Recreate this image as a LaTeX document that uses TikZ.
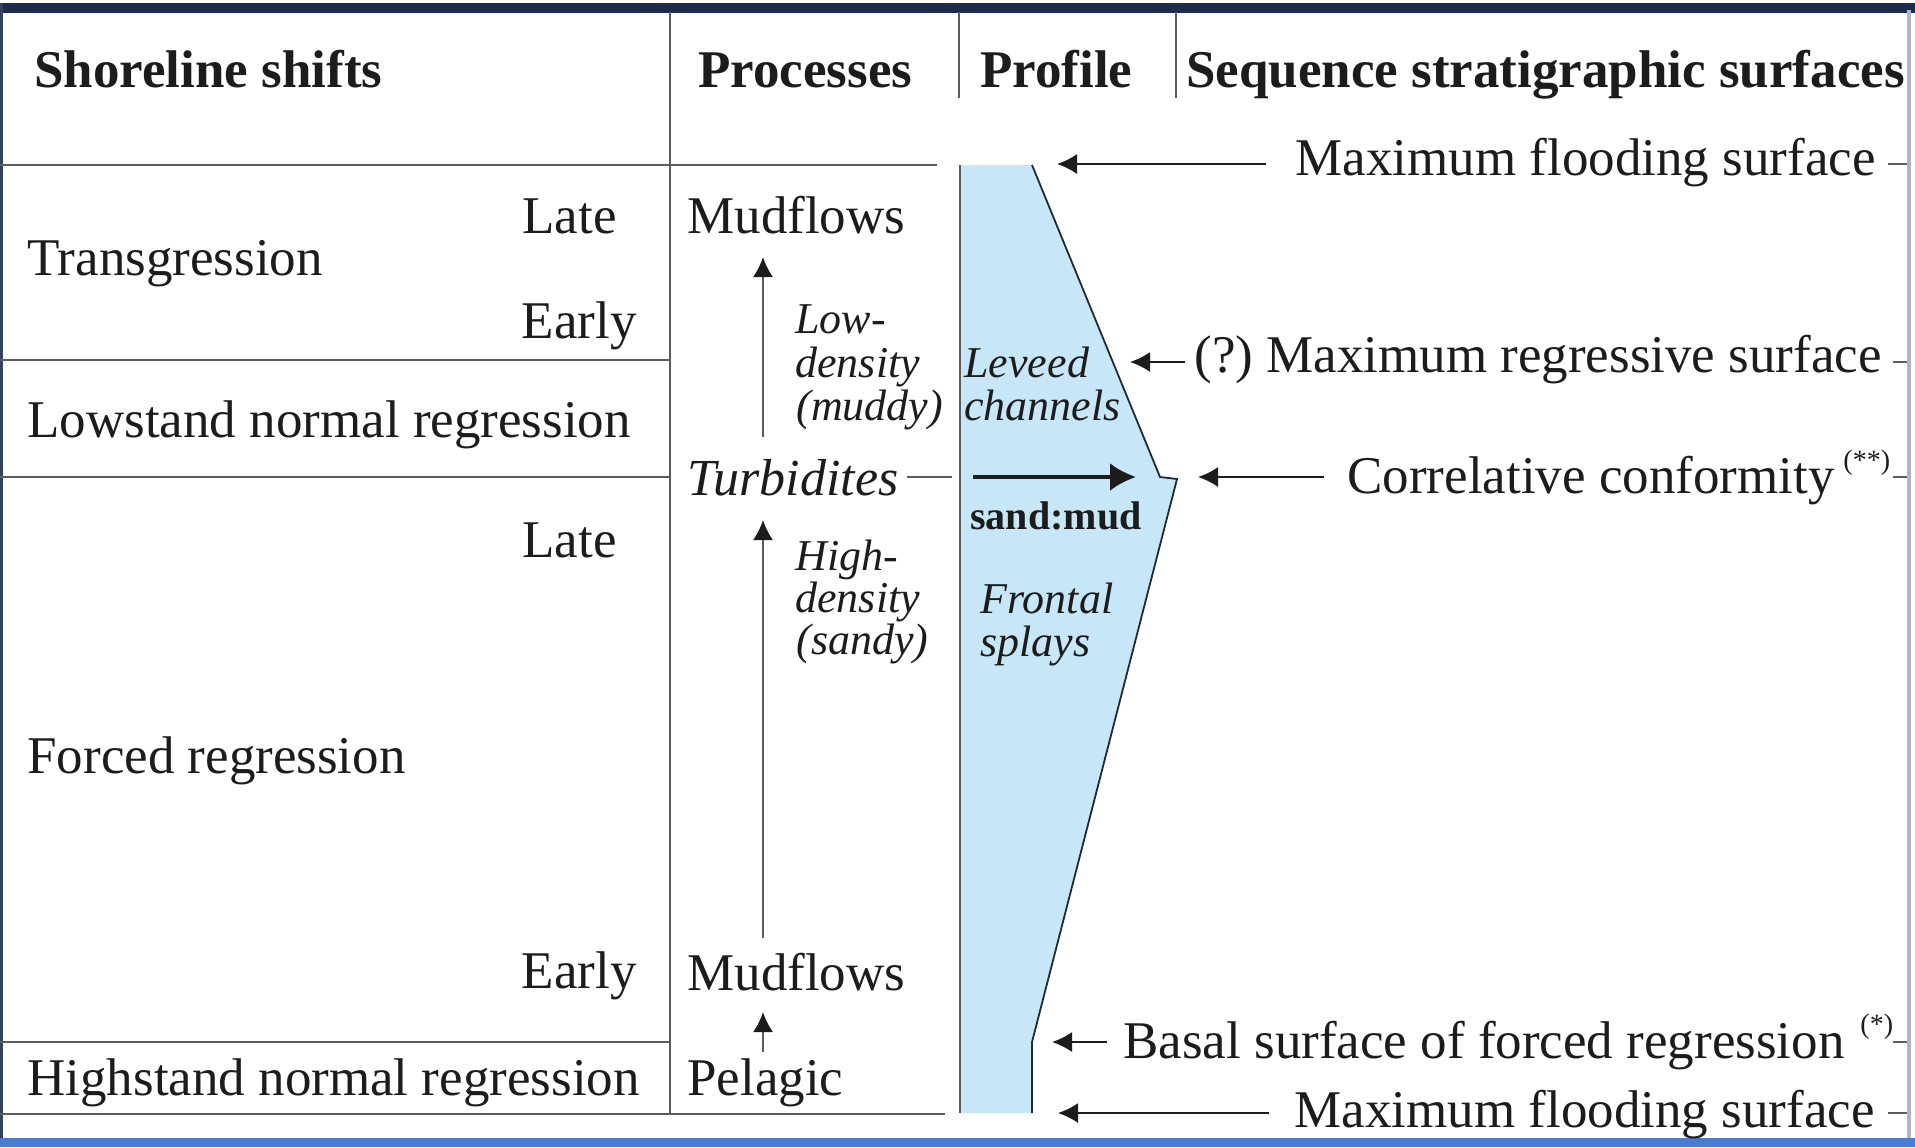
\documentclass[tikz,border=0pt]{standalone}
\usepackage{fontspec}
\setmainfont{Liberation Serif}
\usetikzlibrary{arrows.meta}
\definecolor{ink}{HTML}{1C1C1C}
\definecolor{rulec}{HTML}{5C5C5C}
\definecolor{profc}{HTML}{C7E7F8}
\definecolor{profedge}{HTML}{1E2A36}
\definecolor{navy}{HTML}{1D2B4C}
\definecolor{leftc}{HTML}{34425E}
\definecolor{rightc}{HTML}{A9B5CC}
\definecolor{botc}{HTML}{4A7BD0}
\begin{document}
\begin{tikzpicture}[x=0.5pt,y=-0.5pt,
  txt/.style={inner sep=0pt, font=\fontsize{26.5}{30}\selectfont, text=ink},
  hdr/.style={inner sep=0pt, font=\fontsize{26.5}{30}\selectfont\bfseries, text=ink},
  itl/.style={inner sep=0pt, font=\fontsize{22}{22}\selectfont\itshape, text=ink},
  turb/.style={inner sep=0pt, font=\fontsize{26}{30}\selectfont\itshape, text=ink},
  smud/.style={inner sep=0pt, font=\fontsize{20}{22}\selectfont\bfseries, text=ink},
  supx/.style={inner sep=0pt, font=\fontsize{14}{16}\selectfont, text=ink},
  rule/.style={draw=rulec, line width=1.25pt},
  thin/.style={draw=rulec, line width=1pt},
  arr/.style={draw=ink, line width=1pt, -{Latex[length=10pt,width=10pt]}},
  parr/.style={draw=rulec, line width=1pt, -{Latex[length=10pt,width=10pt,color=ink]}},
  bigarr/.style={draw=ink, line width=2pt, -{Latex[length=13pt,width=14pt]}}
]
% frame and background
\useasboundingbox (0,0) rectangle (1915,1147);
\fill[white] (0,0) rectangle (1915,1147);
\fill[navy] (0,3) rectangle (1915,13);
\fill[leftc] (0,3) rectangle (3,1138);
\fill[rightc] (1907,10) rectangle (1911,1138);
\fill[botc] (0,1138) rectangle (1915,1147);

% profile shape
\coordinate (pA) at (960,165);
\coordinate (pB) at (1032,165);
\coordinate (pC) at (1160,477);
\coordinate (pD) at (1177,479);
\coordinate (pE) at (1032,1042);
\coordinate (pF) at (1032,1113);
\coordinate (pG) at (960,1113);
\fill[profc] (pA)--(pB)--(pC)--(pD)--(pE)--(pF)--(pG)--cycle;
\draw[profedge, line width=0.9pt] (pB)--(pC)--(pD)--(pE)--(pF);
\draw[rule] (pA)--(pG);

% table rules
\coordinate (v1t) at (670,12);  \coordinate (v1b) at (670,1114);
\coordinate (v2t) at (959,12);  \coordinate (v2b) at (959,98);
\coordinate (v3t) at (1176,12); \coordinate (v3b) at (1176,98);
\coordinate (h1l) at (0,165);   \coordinate (h1r) at (937,165);
\coordinate (h2l) at (0,360);   \coordinate (h2r) at (670,360);
\coordinate (h3l) at (0,477);   \coordinate (h3r) at (670,477);
\coordinate (h4l) at (0,1042);  \coordinate (h4r) at (670,1042);
\coordinate (h5l) at (0,1114);  \coordinate (h5r) at (945,1114);
\draw[rule] (v1t)--(v1b);
\draw[rule] (v2t)--(v2b);
\draw[rule] (v3t)--(v3b);
\draw[rule] (h1l)--(h1r);
\draw[rule] (h2l)--(h2r);
\draw[rule] (h3l)--(h3r);
\draw[rule] (h4l)--(h4r);
\draw[rule] (h5l)--(h5r);

% headers
\node[hdr, anchor=base west] (hshore) at (34,87) {Shoreline shifts};
\node[hdr, anchor=base west] (hproc) at (698,87) {Processes};
\node[hdr, anchor=base west] (hprof) at (980,87) {Profile};
\node[hdr, anchor=base west] (hseq) at (1186,87) {Sequence stratigraphic surfaces};

% shoreline shifts column
\node[txt, anchor=base east] (late1) at (617,233) {Late};
\node[txt, anchor=base west] (trans) at (27,275) {Transgression};
\node[txt, anchor=base east] (early1) at (637,338) {Early};
\node[txt, anchor=base west] (lowst) at (27,437) {Lowstand normal regression};
\node[txt, anchor=base east] (late2) at (617,557) {Late};
\node[txt, anchor=base west] (forced) at (27,773) {Forced regression};
\node[txt, anchor=base east] (early2) at (637,988) {Early};
\node[txt, anchor=base west] (highst) at (27,1095) {Highstand normal regression};

% processes column
\node[txt, anchor=base west] (mud1) at (687,233) {Mudflows};
\node[itl, anchor=base west] (lowa) at (795,333) {Low-};
\node[itl, anchor=base west] (lowb) at (795,377) {density};
\node[itl, anchor=base west] (lowc) at (796,420) {(muddy)};
\node[turb, anchor=base west] (turbid) at (687,495) {Turbidites};
\node[itl, anchor=base west] (hia) at (795,570) {High-};
\node[itl, anchor=base west] (hib) at (795,612) {density};
\node[itl, anchor=base west] (hic) at (796,654) {(sandy)};
\node[txt, anchor=base west] (mud2) at (687,990) {Mudflows};
\node[txt, anchor=base west] (pelag) at (687,1095) {Pelagic};

\coordinate (pa1) at (763,437); \coordinate (pa1t) at (763,257);
\coordinate (pa2) at (763,938); \coordinate (pa2t) at (763,520);
\coordinate (pa3) at (763,1052); \coordinate (pa3t) at (763,1012);
\draw[parr] (pa1)--(pa1t);
\draw[parr] (pa2)--(pa2t);
\draw[parr] (pa3)--(pa3t);

% profile column
\node[itl, anchor=base west] (leva) at (964,377) {Leveed};
\node[itl, anchor=base west] (levb) at (964,420) {channels};
\node[smud, anchor=base west] (sandmud) at (970,529) {sand:mud};
\node[itl, anchor=base west] (fra) at (980,613) {Frontal};
\node[itl, anchor=base west] (frb) at (980,656) {splays};
\coordinate (tl1) at (907,477); \coordinate (tl2) at (952,477);
\draw[thin] (tl1)--(tl2);
\coordinate (ba1) at (973,477); \coordinate (ba2) at (1136,477);
\draw[bigarr] (ba1)--(ba2);

% sequence stratigraphic surfaces
\node[txt, anchor=base east] (mfs1) at (1876,175) {Maximum flooding surface};
\node[txt, anchor=base west] (qm) at (1194,372) {(?)};
\node[txt, anchor=base west] (mrs) at (1266,372) {Maximum regressive surface};
\node[txt, anchor=base west] (ccf) at (1347,493) {Correlative conformity};
\node[supx, anchor=west] (ccs) at (1843,463) {(**)};
\node[txt, anchor=base west] (bsfr) at (1123,1058) {Basal surface of forced regression};
\node[supx, anchor=west] (bss) at (1860,1027) {(*)};
\node[txt, anchor=base east] (mfs2) at (1875,1127) {Maximum flooding surface};

\coordinate (r1a) at (1266,164); \coordinate (r1b) at (1057,164);
\coordinate (r2a) at (1185,362); \coordinate (r2b) at (1130,362);
\coordinate (r3a) at (1324,477); \coordinate (r3b) at (1198,477);
\coordinate (r4a) at (1107,1042); \coordinate (r4b) at (1052,1042);
\coordinate (r5a) at (1269,1113); \coordinate (r5b) at (1058,1113);
\draw[arr] (r1a)--(r1b);
\draw[arr] (r2a)--(r2b);
\draw[arr] (r3a)--(r3b);
\draw[arr] (r4a)--(r4b);
\draw[arr] (r5a)--(r5b);

% ticks to right frame
\coordinate (t1a) at (1888,164); \coordinate (t1b) at (1907,164);
\coordinate (t2a) at (1893,362); \coordinate (t2b) at (1907,362);
\coordinate (t3a) at (1893,477); \coordinate (t3b) at (1907,477);
\coordinate (t4a) at (1893,1042); \coordinate (t4b) at (1907,1042);
\coordinate (t5a) at (1888,1113); \coordinate (t5b) at (1907,1113);
\draw[thin] (t1a)--(t1b);
\draw[thin] (t2a)--(t2b);
\draw[thin] (t3a)--(t3b);
\draw[thin] (t4a)--(t4b);
\draw[thin] (t5a)--(t5b);
\end{tikzpicture}
\end{document}
